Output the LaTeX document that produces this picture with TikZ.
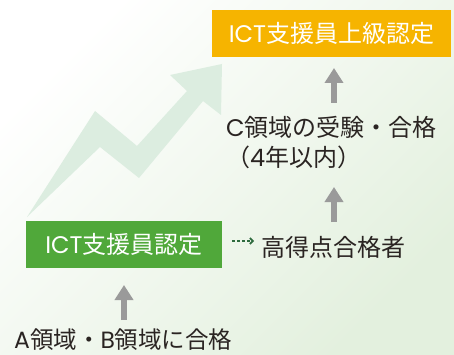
\documentclass[tikz,border=0pt]{standalone}
\usepackage{fontspec}
\setmainfont{Noto Sans CJK JP}
\newfontfamily\latf{Poppins}
\newcommand{\lat}[1]{{\latf #1}}
\usetikzlibrary{arrows.meta}
\definecolor{bgG}{HTML}{E3F0DE}
\definecolor{zig}{HTML}{DCEDE0}
\definecolor{orangeB}{HTML}{F6B400}
\definecolor{greenB}{HTML}{50A83A}
\definecolor{grayA}{HTML}{9A9A9A}
\definecolor{txt}{HTML}{2A2422}
\definecolor{dotG}{HTML}{2E6B3E}
\tikzset{
  box/.style={draw=none, inner sep=0pt, minimum height=47pt, text=white, font=\fontsize{24}{28}\selectfont},
  lbl/.style={inner sep=0pt, text=txt, font=\fontsize{24}{28}\selectfont, anchor=base west},
  garrow/.style={draw=grayA, line width=6pt, -{Triangle[width=18pt,length=15pt]}},
  dotarrow/.style={draw=dotG, line width=1.6pt, dash pattern=on 2.5pt off 2.5pt, -{Straight Barb[length=3pt,width=6pt]}}
}
\begin{document}
\begin{tikzpicture}[x=1pt,y=-1pt]
\useasboundingbox (0,0) rectangle (454,355);
\shade[top color=white, bottom color=bgG, shading angle=45] (0,0) rectangle (454,355);
% zigzag arrow
\fill[zig] (27,217) -- (95,111) -- (137,146) -- (187,91) -- (170,75) -- (222,64)
  -- (221,115) -- (203,101) -- (139,178) -- (100,147) -- cycle;
% boxes
\node[box, fill=orangeB, minimum width=239pt] (obox) at (331.5,33.5) {\lat{ICT}支援員上級認定};
\node[box, fill=greenB, minimum width=196pt] (gbox) at (124,244.5) {\lat{ICT}支援員認定};
% labels
\node[lbl] (c1) at (226,136.5) {\lat{C}領域の受験・合格};
\node[lbl] (c2) at (226,166.5) {（\lat{4}年以内）};
\node[lbl] (hi) at (261,256) {高得点合格者};
\node[lbl, font=\fontsize{23.5}{28}\selectfont] (ab) at (14,348) {\lat{A}領域・\lat{B}領域に合格};
% arrow coordinates
\coordinate (u1b) at (334,103); \coordinate (u1t) at (334,68);
\coordinate (u2b) at (334,222); \coordinate (u2t) at (334,187);
\coordinate (l1b) at (124,320); \coordinate (l1t) at (124,285);
\draw[garrow] (u1b) -- (u1t);
\draw[garrow] (u2b) -- (u2t);
\draw[garrow] (l1b) -- (l1t);
\draw[dotarrow, shorten <=10pt, shorten >=7pt] ([yshift=3.5pt]gbox.east) -- ([yshift=3.5pt]gbox.east -| hi.west);
\end{tikzpicture}
\end{document}
